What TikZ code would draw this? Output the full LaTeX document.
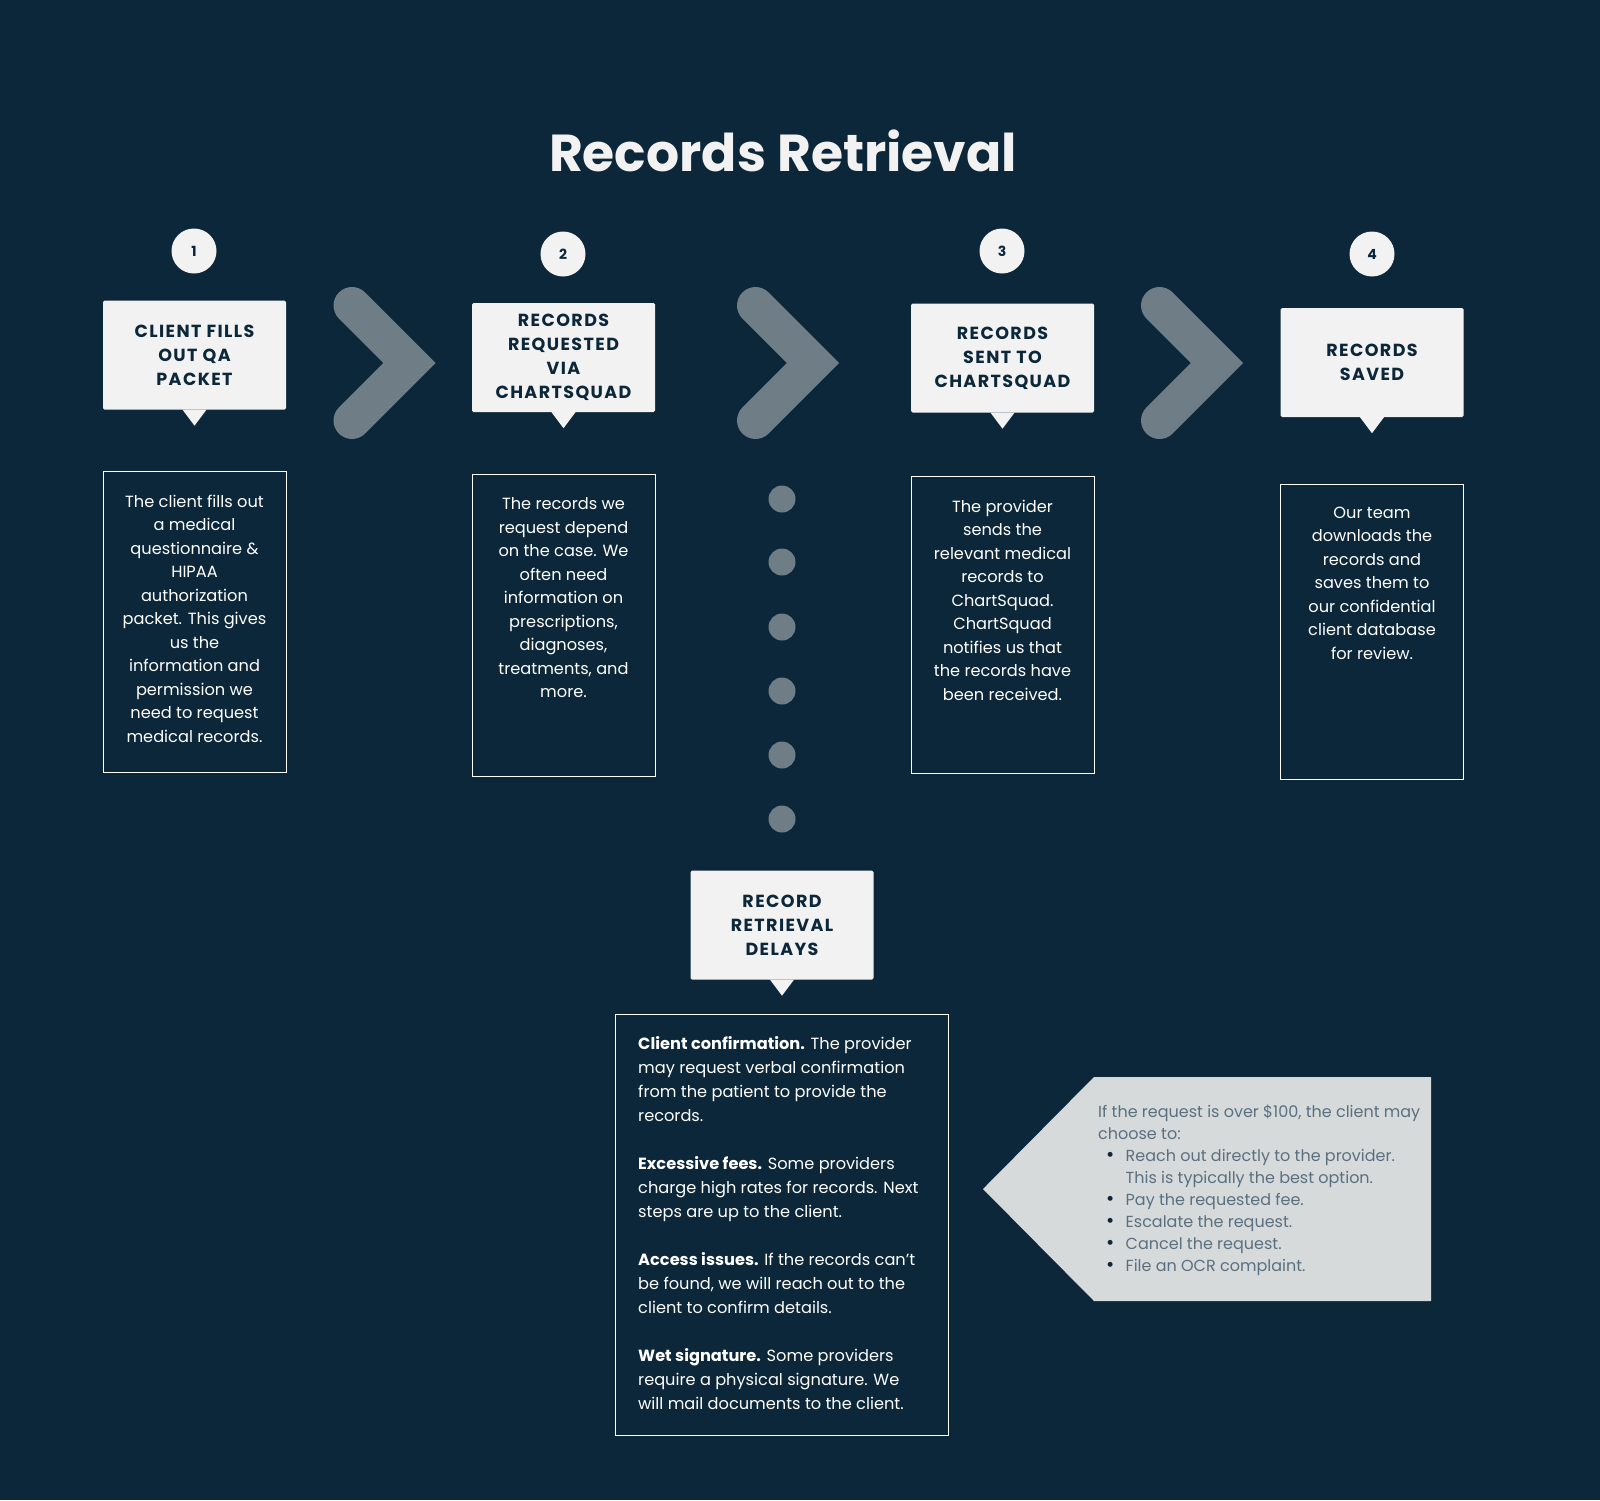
\documentclass[tikz,border=0pt]{standalone}
\usepackage{fontspec}
\setmainfont{Poppins}
\newfontfamily\hdrfont[LetterSpace=8]{Poppins}
\definecolor{bg}{HTML}{0B2739}
\definecolor{hdr}{HTML}{F2F2F2}
\definecolor{chev}{HTML}{6F7D87}
\definecolor{callfill}{HTML}{D6DADA}
\definecolor{calltext}{HTML}{5A7080}
\tikzset{
  header/.style={rectangle, fill=hdr, rounded corners=1.5pt, minimum width=183pt, minimum height=109pt, inner sep=0pt, align=center, text=bg, font=\hdrfont\bfseries\fontsize{17.5}{24}\selectfont},
  numc/.style={circle, fill=hdr, minimum size=45pt, inner sep=0pt, text=bg, font=\bfseries\fontsize{14}{16}\selectfont},
  descbox/.style={rectangle, draw=white, line width=1pt, inner sep=0pt, minimum width=183pt},
  desctext/.style={anchor=north, inner sep=0pt, align=center, text=white, font=\fontsize{16.2}{23.5}\selectfont},
  chevron/.style={draw=chev, line width=37pt, line cap=round, line join=miter},
  dotc/.style={circle, fill=chev, minimum size=27pt, inner sep=0pt},
}
\newcommand{\pointer}[1]{\fill[hdr] ([xshift=-12pt]#1.south) -- ([yshift=-16pt]#1.south) -- ([xshift=12pt]#1.south) -- cycle;}
\newcommand{\bul}{\makebox[27.5pt][l]{\hspace{8pt}\textcolor{bg}{\fontsize{20}{22}\selectfont•}}}
\begin{document}
\begin{tikzpicture}[x=1pt,y=-1pt]
\fill[bg] (0,0) rectangle (1600,1500);
\useasboundingbox (0,0) rectangle (1600,1500);

\node[text=hdr, font=\bfseries\fontsize{52}{58}\selectfont] (title) at (783,151) {Records Retrieval};

% number circles
\node[numc] (n1) at (194,251) {1};
\node[numc] (n2) at (563,254) {2};
\node[numc] (n3) at (1002,251) {3};
\node[numc] (n4) at (1372,254) {4};

% headers
\node[header] (h1) at (194.5,355) {CLIENT FILLS\\OUT QA\\PACKET};
\node[header] (h2) at (563.5,357.5) {RECORDS\\REQUESTED\\VIA\\CHARTSQUAD};
\node[header] (h3) at (1002.5,358) {RECORDS\\SENT TO\\CHARTSQUAD};
\node[header] (h4) at (1372,362.5) {RECORDS\\SAVED};
\node[header] (h5) at (782,925) {RECORD\\RETRIEVAL\\DELAYS};
\pointer{h1}\pointer{h2}\pointer{h3}\pointer{h4}\pointer{h5}

% chevrons
\foreach \cx in {409.5,813,1217}{
  \draw[chevron] (\cx-57.5,305.5) -- (\cx,363) -- (\cx-57.5,420.5);
}

% dots
\foreach \dy [count=\i] in {499,562,627,691,755,819}{
  \node[dotc] (dot\i) at (782,\dy) {};
}

% description boxes
\node[descbox, minimum height=301pt] (d1) at (194.5,621.5) {};
\node[descbox, minimum height=302pt] (d2) at (563.5,625) {};
\node[descbox, minimum height=297pt] (d3) at (1002.5,624.5) {};
\node[descbox, minimum height=295pt] (d4) at (1372,631.5) {};
\node[descbox, minimum width=333pt, minimum height=421pt] (d5) at (781.5,1224.5) {};

\node[desctext] (t1) at (194.5,494.5) {The client fills out\\a medical\\questionnaire \&\\HIPAA\\authorization\\packet. This gives\\us the\\information and\\permission we\\need to request\\medical records.};
\node[desctext] (t2) at (563.5,497.5) {The records we\\request depend\\on the case. We\\often need\\information on\\prescriptions,\\diagnoses,\\treatments, and\\more.};
\node[desctext] (t3) at (1002.5,499.5) {The provider\\sends the\\relevant medical\\records to\\ChartSquad.\\ChartSquad\\notifies us that\\the records have\\been received.};
\node[desctext] (t4) at (1372,506.5) {Our team\\downloads the\\records and\\saves them to\\our confidential\\client database\\for review.};

\node[anchor=north west, inner sep=0pt, align=left, text=white, font=\fontsize{16.2}{24}\selectfont] (t5) at (638,1036.5) {\textbf{Client confirmation.} The provider\\may request verbal confirmation\\from the patient to provide the\\records.\\[24pt]\textbf{Excessive fees.} Some providers\\charge high rates for records. Next\\steps are up to the client.\\[24pt]\textbf{Access issues.} If the records can’t\\be found, we will reach out to the\\client to confirm details.\\[24pt]\textbf{Wet signature.} Some providers\\require a physical signature. We\\will mail documents to the client.};

% callout
\fill[callfill] (983,1189) -- (1094,1077) -- (1431,1077) -- (1431,1301) -- (1094,1301) -- cycle;
\node[anchor=north west, inner sep=0pt, align=left, text=calltext, font=\fontsize{16}{22}\selectfont] (t6) at (1098,1104.5) {If the request is over \$100, the client may\\choose to:\\
\bul Reach out directly to the provider.\\
\hspace*{27.5pt}This is typically the best option.\\
\bul Pay the requested fee.\\
\bul Escalate the request.\\
\bul Cancel the request.\\
\bul File an OCR complaint.};
\end{tikzpicture}
\end{document}
